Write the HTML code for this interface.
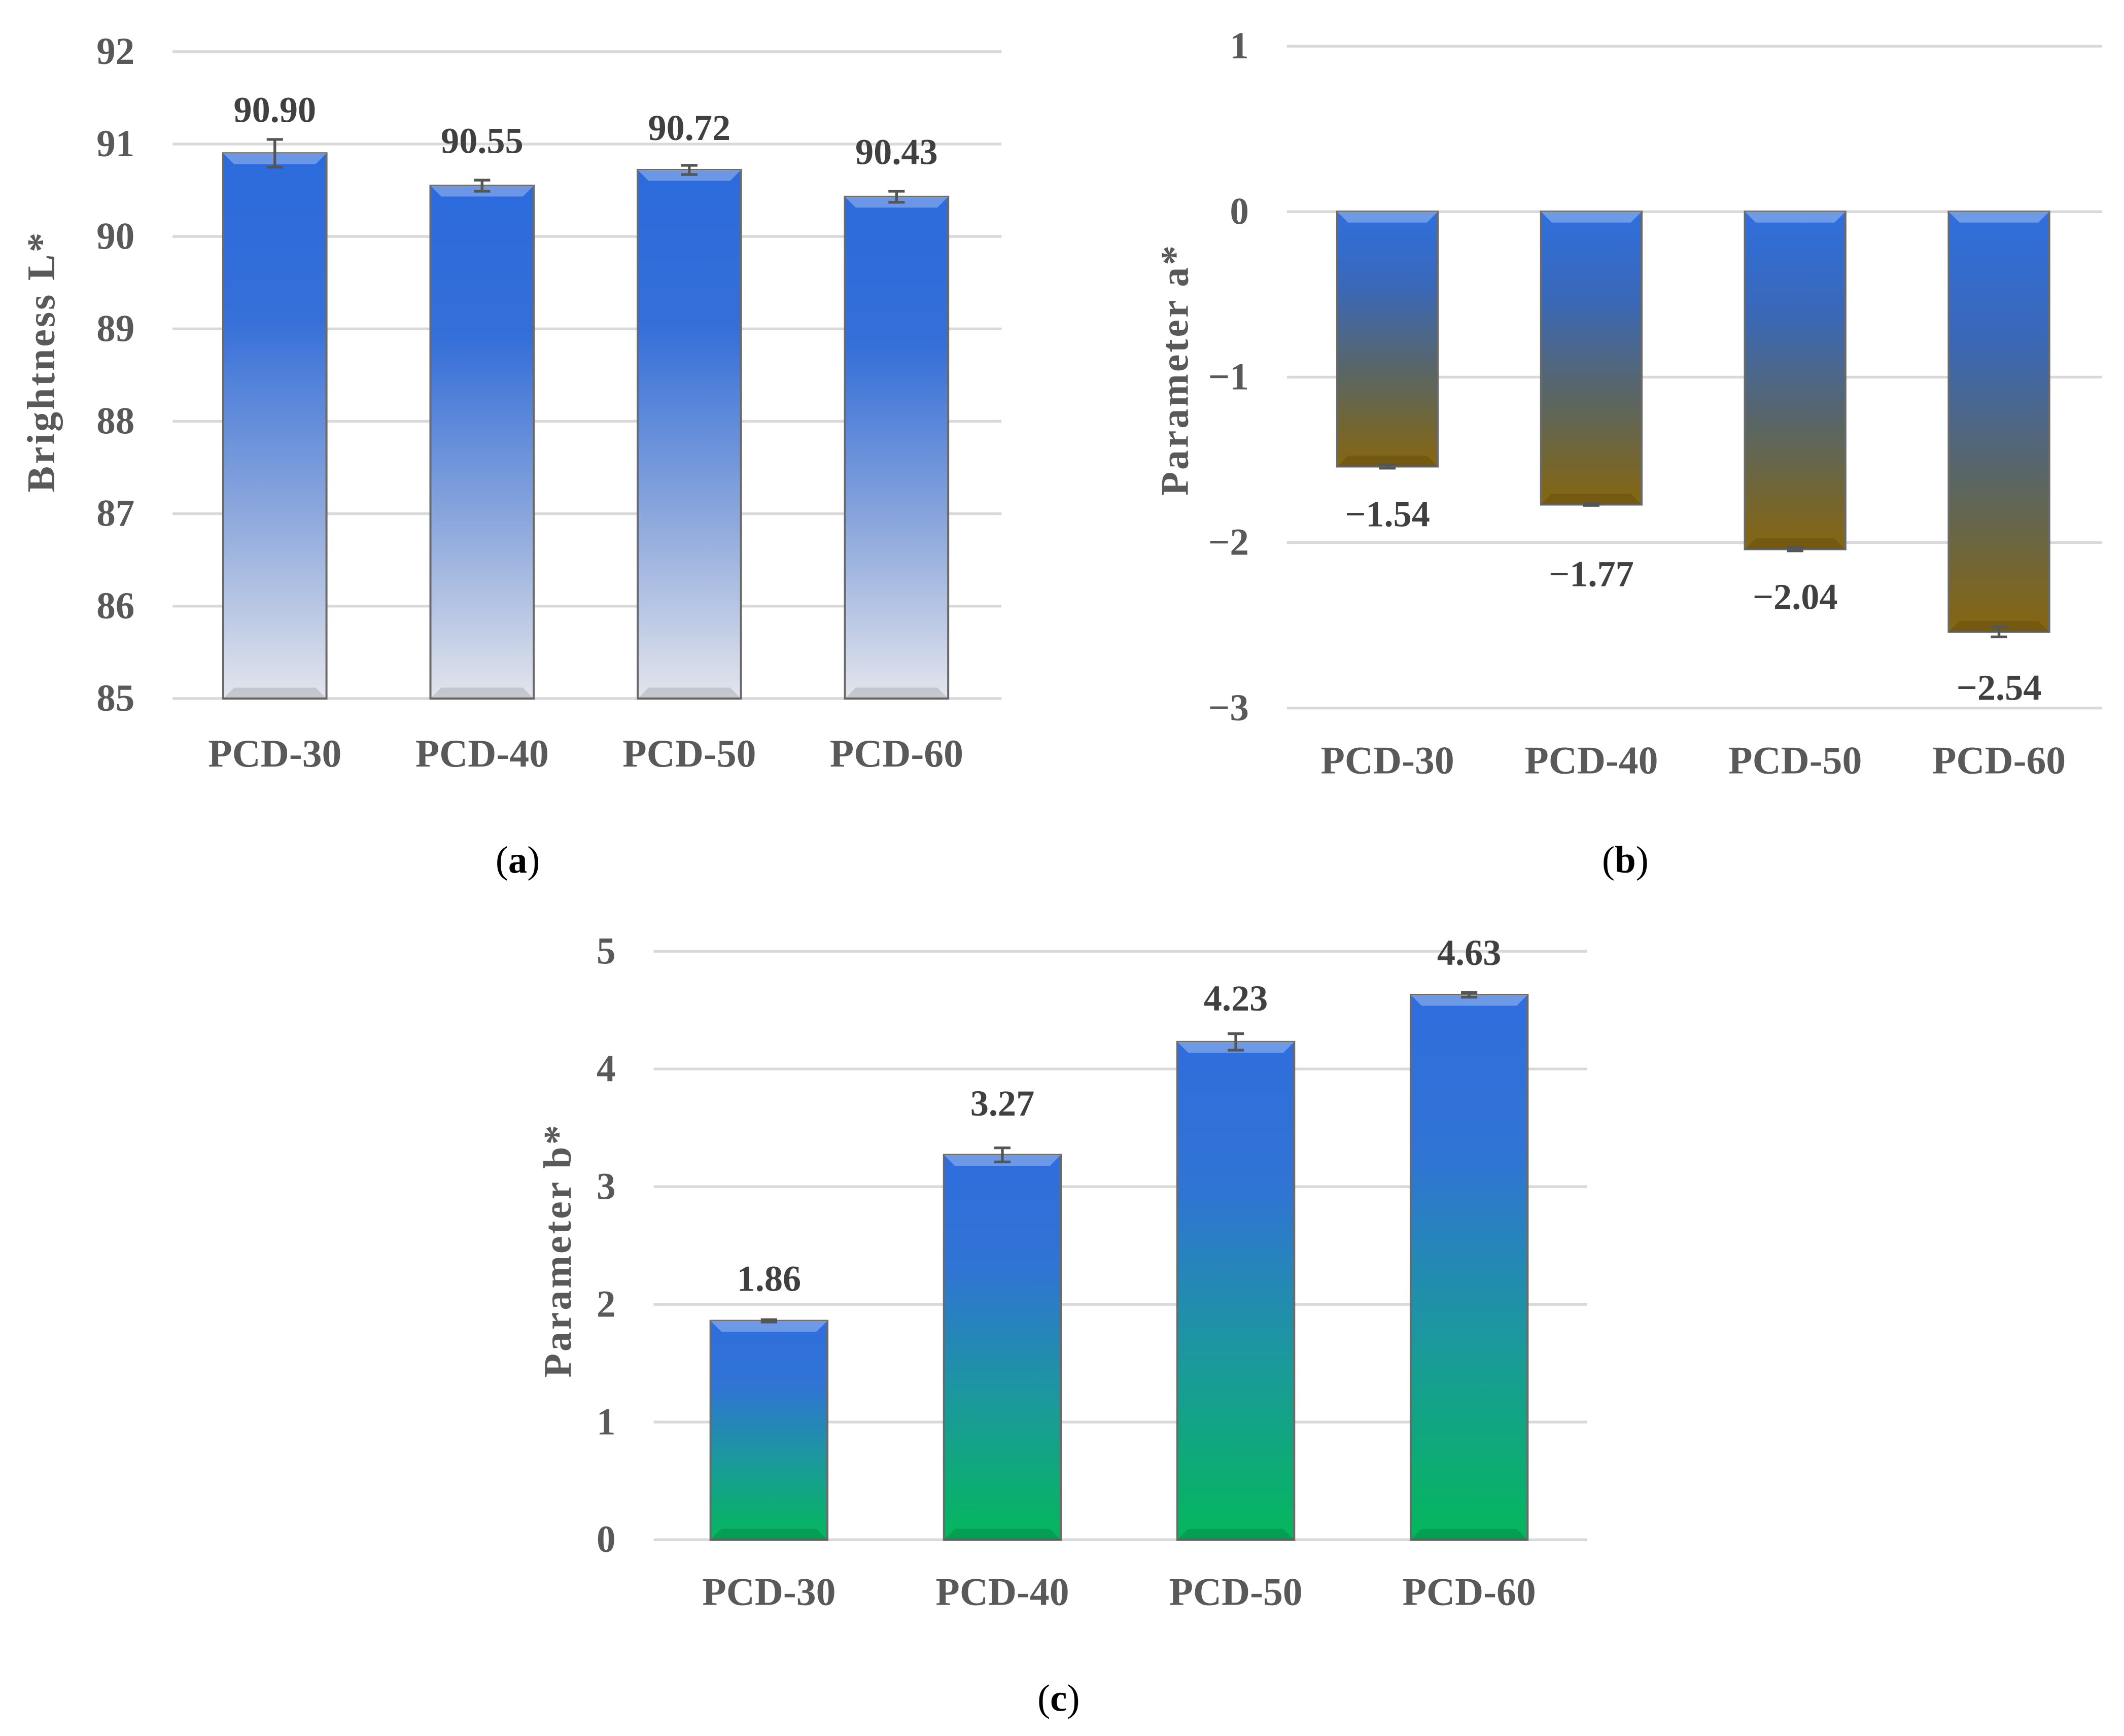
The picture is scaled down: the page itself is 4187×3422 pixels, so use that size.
<!DOCTYPE html>
<html><head><meta charset="utf-8"><style>
html,body{margin:0;padding:0;background:#fff;}
svg{display:block;font-family:"Liberation Serif",serif;}
</style></head><body>
<svg id="fig" width="4187" height="3422" viewBox="0 0 1563 1277.4" xmlns="http://www.w3.org/2000/svg">
<defs>
<linearGradient id="gA" x1="0" y1="0" x2="0" y2="1"><stop offset="0" stop-color="#2c6bdc"/><stop offset="0.3" stop-color="#356fd8"/><stop offset="0.65" stop-color="#8aa6dc"/><stop offset="1" stop-color="#e3e5ec"/></linearGradient>
<linearGradient id="gB" x1="0" y1="0" x2="0" y2="1"><stop offset="0" stop-color="#2f6fde"/><stop offset="0.3" stop-color="#3a68b8"/><stop offset="0.65" stop-color="#5c6660"/><stop offset="1" stop-color="#86660f"/></linearGradient>
<linearGradient id="gC" x1="0" y1="0" x2="0" y2="1"><stop offset="0" stop-color="#2f6ddd"/><stop offset="0.3" stop-color="#3074d4"/><stop offset="0.65" stop-color="#1a9a9a"/><stop offset="1" stop-color="#04b75c"/></linearGradient>
</defs>
<g id="root"></g>
</svg>
<script>
const categories = ["PCD-30","PCD-40","PCD-50","PCD-60"];
const valuesA = [90.90, 90.55, 90.72, 90.43];
const errorsA = [0.15, 0.06, 0.05, 0.06];
const labelsA = ["90.90","90.55","90.72","90.43"];
const ticksA = [85,86,87,88,89,90,91,92];
const valuesB = [-1.54, -1.77, -2.04, -2.54];
const errorsB = [0.01, 0.005, 0.01, 0.03];
const labelsB = ["\u22121.54","\u22121.77","\u22122.04","\u22122.54"];
const ticksB = [-3,-2,-1,0,1];
const tickLabelsB = ["\u22123","\u22122","\u22121","0","1"];
const valuesC = [1.86, 3.27, 4.23, 4.63];
const errorsC = [0.01, 0.06, 0.07, 0.02];
const labelsC = ["1.86","3.27","4.23","4.63"];
const ticksC = [0,1,2,3,4,5];

const NS="http://www.w3.org/2000/svg";
const root=document.getElementById('root');
function mk(tag,attrs,parent,text){const e=document.createElementNS(NS,tag);for(const k in attrs)e.setAttribute(k,attrs[k]);if(text!==undefined)e.textContent=text;(parent||root).appendChild(e);return e;}

function chart(cfg){
  const g=mk('g',{});
  
  
  const y=v=>cfg.y0+(v-cfg.vmin)/(cfg.vmax-cfg.vmin)*(cfg.y1-cfg.y0);
  const step=(cfg.x1-cfg.x0)/categories.length;
  const xc=i=>cfg.x0+step*(i+0.5)+cfg.shift;
  cfg.ticks.forEach((t,i)=>{
    const gl=mk('line',{x1:cfg.x0,x2:cfg.x1,y1:y(t),y2:y(t),stroke:'#d9d9d9','stroke-width':2},g);
    
    
    const tl=mk('text',{x:cfg.x0-28,y:y(t)+9,'text-anchor':'end','font-size':28,fill:'#595959','font-weight':'bold'},g,cfg.tickLabels?cfg.tickLabels[i]:String(t));
    
    
  });
  const base=cfg.base;
  cfg.values.forEach((v,i)=>{
    const cx=xc(i),w=cfg.bw;
    const top=Math.min(y(v),y(base)),bot=Math.max(y(v),y(base));
    const b=mk('rect',{x:cx-w/2,y:top,width:w,height:bot-top,fill:cfg.grad,stroke:'#6a6a6a','stroke-width':1.5},g);
    
    
    const bev=mk('polygon',{points:`${cx-w/2},${top} ${cx+w/2},${top} ${cx+w/2-8},${top+8} ${cx-w/2+8},${top+8}`,fill:'#ffffff','fill-opacity':0.3},g);
    
    
    const bev2=mk('polygon',{points:`${cx-w/2},${bot} ${cx+w/2},${bot} ${cx+w/2-8},${bot-8} ${cx-w/2+8},${bot-8}`,fill:'#000','fill-opacity':0.12},g);
    
    
    const e=cfg.errors[i];
    const eg=mk('g',{stroke:'#555','stroke-width':2},g);
    
    
    mk('line',{x1:cx,x2:cx,y1:y(v-e),y2:y(v+e)},eg);
    mk('line',{x1:cx-6,x2:cx+6,y1:y(v-e),y2:y(v-e)},eg);
    mk('line',{x1:cx-6,x2:cx+6,y1:y(v+e),y2:y(v+e)},eg);
    const ly=cfg.neg?y(v)+cfg.labOff[i]:y(v)-cfg.labOff[i];
    const lt=mk('text',{x:cx,y:ly,'text-anchor':'middle','font-size':27,'font-weight':'bold',fill:'#404040'},g,cfg.labels[i]);
    
    
    const xl=mk('text',{x:cx,y:cfg.xlabY,'text-anchor':'middle','font-size':29,'font-weight':'bold',fill:'#595959'},g,categories[i]);
    
    
  });
  const yt=mk('text',{x:0,y:0,transform:`translate(${cfg.titleX},${cfg.titleY}) rotate(-90)`,'text-anchor':'middle','font-size':29,'font-weight':'bold',fill:'#595959','letter-spacing':1.5},g,cfg.title);
  
  
  const cap=mk('text',{x:cfg.capX,y:cfg.capY,'text-anchor':'middle','font-size':28,fill:'#000'},g);
  
  
  mk('tspan',{},cap,'(');mk('tspan',{'font-weight':'bold'},cap,cfg.cap);mk('tspan',{},cap,')');
}

chart({name:'chart-brightness',values:valuesA,errors:errorsA,labels:labelsA,ticks:ticksA,vmin:85,vmax:92,y0:514,y1:38,x0:127,x1:737,shift:-1,bw:76,base:85,grad:'url(#gA)',neg:false,labOff:[23,24,22,24],xlabY:564,title:'Brightness L*',titleX:40,titleY:266,cap:'a',capX:381,capY:642});
chart({name:'chart-parameter-a',values:valuesB,errors:errorsB,labels:labelsB,ticks:ticksB,tickLabels:tickLabelsB,vmin:-3,vmax:1,y0:521,y1:34,x0:947,x1:1547,shift:-1,bw:74,base:0,grad:'url(#gB)',neg:true,labOff:[44,60,44,50],xlabY:569,title:'Parameter a*',titleX:874,titleY:272,cap:'b',capX:1196,capY:642});
chart({name:'chart-parameter-b',values:valuesC,errors:errorsC,labels:labelsC,ticks:ticksC,vmin:0,vmax:5,y0:1133,y1:700,x0:481,x1:1168,shift:-1,bw:86,base:0,grad:'url(#gC)',neg:false,labOff:[22,29,23,22],xlabY:1181,title:'Parameter b*',titleX:420,titleY:920,cap:'c',capX:779,capY:1259});
</script>
</body></html>
